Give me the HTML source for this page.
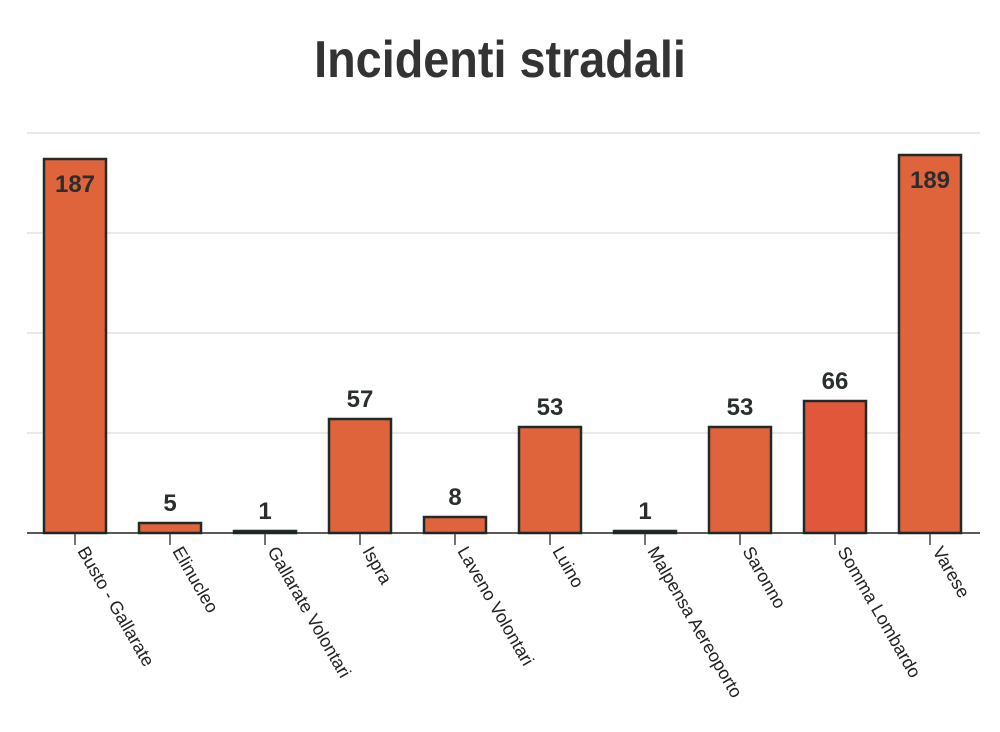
<!DOCTYPE html>
<html><head><meta charset="utf-8"><style>
html,body{margin:0;padding:0;background:#fff;width:1000px;height:732px;overflow:hidden}
svg text{font-family:"Liberation Sans",sans-serif}
</style></head><body>
<svg id="chart" width="1000" height="732" xmlns="http://www.w3.org/2000/svg">
<text x="500" y="77" text-anchor="middle" font-size="52" font-weight="bold" fill="#333" transform="translate(500,0) scale(0.9,1) translate(-500,0)">Incidenti stradali</text>
<g id="grid"></g>
<g id="bars"></g>
<g id="xaxis"></g>
</svg>
<script>
const categories=["Busto - Gallarate","Elinucleo","Gallarate Volontari","Ispra","Laveno Volontari","Luino","Malpensa Aereoporto","Saronno","Somma Lombardo","Varese"];
const values=[187,5,1,57,8,53,1,53,66,189];
const gridTicks=[50,100,150,200];
const NS="http://www.w3.org/2000/svg";
const x0=27.5,band=95,barW=62,baseY=533,yMax=200,plotH=400;
const y=v=>baseY-v/yMax*plotH;
const xc=i=>x0+band*i+band/2;
function mk(t,a,p){const e=document.createElementNS(NS,t);for(const k in a)e.setAttribute(k,a[k]);p.appendChild(e);return e;}
const grid=document.getElementById('grid'),bars=document.getElementById('bars'),xa=document.getElementById('xaxis');
gridTicks.forEach(t=>{
 const l=mk('line',{x1:27,x2:980,y1:y(t),y2:y(t),stroke:'#e2e2e2','stroke-width':1.5},grid);
 
 
});
values.forEach((v,i)=>{
 const r=mk('rect',{x:xc(i)-barW/2,y:y(v),width:barW,height:baseY-y(v),fill:i===8?'#e0573a':'#df643b',stroke:'#1f2a2a','stroke-width':2.5},bars);
 
 
 const inside=v>150;
 const t=mk('text',{x:xc(i),y:inside?y(v)+33:y(v)-12,'text-anchor':'middle','font-size':24,'font-weight':'bold',fill:'#2a2e2e'},bars);
 t.textContent=v;
 
 
 const tk=mk('line',{x1:xc(i),x2:xc(i),y1:baseY,y2:baseY+12,stroke:'#444','stroke-width':1.5},xa);
 
 
 const lb=mk('text',{x:0,y:0,'font-size':18,fill:'#222',transform:`translate(${xc(i)+2},${baseY+18}) rotate(60)`},xa);
 lb.textContent=categories[i];
 
 
});
const ax=mk('line',{x1:27,x2:980,y1:baseY,y2:baseY,stroke:'#222','stroke-width':1.5},xa);


</script>
</body></html>
